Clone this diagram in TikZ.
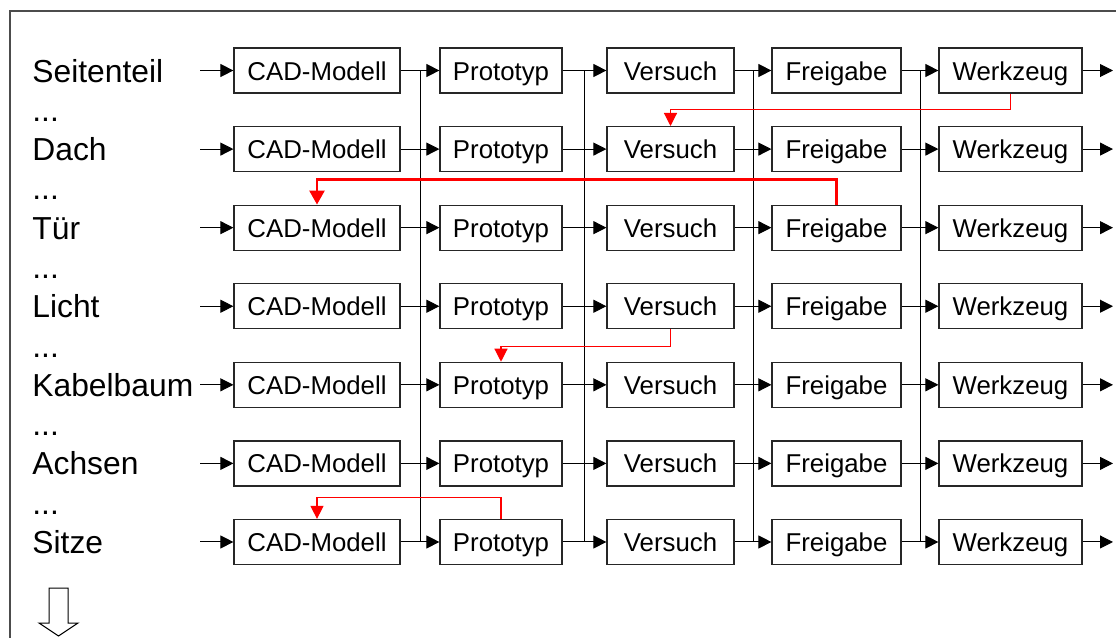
\documentclass[tikz,border=0pt]{standalone}
\usepackage{fontspec}
\setmainfont{Liberation Sans}
\usetikzlibrary{arrows.meta,calc}

\begin{document}
\begin{tikzpicture}[x=0.5pt,y=-0.5pt,
  box/.style={draw=black!85,line width=0.6pt,minimum height=22.5pt,inner sep=0pt,text height=10pt,text depth=0.5pt,font=\fontsize{12.9}{15}\selectfont},
  pfeil/.style={-{Triangle[length=6.5pt,width=6.5pt]},line width=0.5pt},
  rueck/.style={red,line width=0.6pt,-{Triangle[length=6.5pt,width=6.5pt]}},
  lbl/.style={anchor=base west,inner sep=0pt,font=\fontsize{15.9}{19}\selectfont}]
  \useasboundingbox (0,0) rectangle (1116,638);
  % Rahmen
  \draw[black!70,line width=0.6pt] (1120,11) -- (10,11) -- (10,642);
  % Zeilen: Bauteil, Kette der Schritte, Ein- und Ausgang
  \foreach \teil [count=\i] in {Seitenteil,Dach,Tür,Licht,Kabelbaum,Achsen,Sitze}{
    \pgfmathsetmacro\yy{70.5+(\i-1)*78.58}
    \node[lbl] (teil\i) at (32,\yy+11.5) {\teil};
    \foreach \nm/\txt/\cx/\w in {cad/CAD-Modell/317/83,pr/Prototyp/501/61,vs/Versuch/670.5/63.5,fg/Freigabe/836.5/64.5,wz/Werkzeug/1010.5/71.5}
      \node[box,minimum width=\w pt] (\nm\i) at (\cx,\yy) {\txt};
    \coordinate (ein\i) at (200,\yy);
    \coordinate (aus\i) at (1113,\yy);
    \draw[pfeil] (ein\i) -- (cad\i);
    \draw[pfeil] (wz\i) -- (aus\i);
  }
  % Punkte zwischen den Zeilen
  \foreach \i in {1,...,6}
    \node[lbl] (pkt\i) at (32,{70.5+(\i-0.5)*78.58+11.5}) {...};
  % Verbindungen und senkrechte Sammelleitungen
  \foreach \a/\b in {cad/pr,pr/vs,vs/fg,fg/wz}{
    \draw[line width=0.5pt] ($(\a1.east)!.5!(\b1.west)$) -- ($(\a7.east)!.5!(\b7.west)$);
    \foreach \i in {1,...,7}
      \draw[pfeil] (\a\i) -- (\b\i);
  }
  % Rueckspruenge
  \draw[rueck] (wz1.south) -- ++(0,16) -| (vs2.north);
  \draw[rueck,line width=1.3pt,-{Triangle[length=7pt,width=7.5pt]}] (fg3.north) -- ++(0,-25) -| (cad3.north);
  \draw[rueck] (vs4.south) -- ++(0,17) -| (pr5.north);
  \draw[rueck] (pr7.north) -- ++(0,-21) -| (cad7.north);
  % Blockpfeil unten
  \draw[line width=0.5pt] (49,588) -- (68,588) -- (68,623) -- (78,623) -- (58.5,636) -- (39,623) -- (49,623) -- cycle;
\end{tikzpicture}
\end{document}
